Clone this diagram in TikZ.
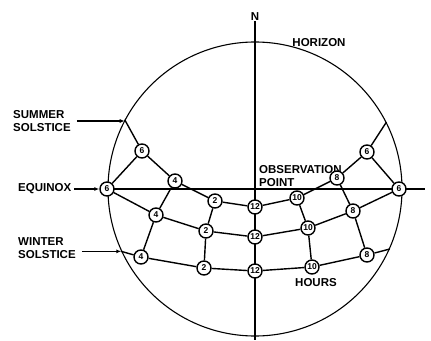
\documentclass[tikz,border=0pt]{standalone}
\usepackage{fontspec}
\setmainfont{Liberation Sans}
\usepackage{tikz}
\usetikzlibrary{arrows.meta, positioning, backgrounds}

\begin{document}
\begin{tikzpicture}[
    x=1pt, y=-1pt,
    hour/.style={
        circle,
        draw=black,
        line width=1.4pt,
        fill=white,
        inner sep=0pt,
        minimum size=14pt,
        font=\fontsize{8.5}{9}\selectfont\bfseries
    },
    lbl/.style={
        align=left,
        inner sep=0pt,
        font=\fontsize{11.5}{13.5}\selectfont\bfseries
    },
    track/.style={line width=1.4pt},
    axis/.style={line width=1.7pt},
    arrow/.style={-{Latex[length=5pt,width=4pt]}, line width=1.1pt}
]
\useasboundingbox (0,0) rectangle (431,340);

\node[circle, draw=black, line width=1.1pt, minimum size=294pt, inner sep=0pt] (horizon) at (255,189) {};

% labels
\node[lbl] (north) at (255,17) {N};
\node[lbl] (horlbl) at (319,43) {HORIZON};
\node[lbl, anchor=west] (summer) at (13,121) {SUMMER\\SOLSTICE};
\node[lbl, anchor=west] (equinox) at (18,189) {EQUINOX};
\node[lbl, anchor=west] (winter) at (18,248) {WINTER\\SOLSTICE};
\node[lbl, anchor=south west] (obs) at (259,187) {OBSERVATION\\POINT};
\node[lbl] (hours) at (316,283) {HOURS};

% summer solstice
\node[hour] (s6l) at (142,151) {6};
\node[hour] (s4) at (175,181) {4};
\node[hour] (s2) at (215,201) {2};
\node[hour] (s12) at (255,207) {12};
\node[hour] (s10) at (297,198) {10};
\node[hour] (s8) at (337,178) {8};
\node[hour] (s6r) at (367,152) {6};

% equinox
\node[hour] (e6l) at (107,189) {6};
\node[hour] (e4) at (156,215) {4};
\node[hour] (e2) at (206,231) {2};
\node[hour] (e12) at (255,237) {12};
\node[hour] (e10) at (308,228) {10};
\node[hour] (e8) at (353,211) {8};
\node[hour] (e6r) at (399,189) {6};

% winter solstice
\node[hour] (w4) at (141,257) {4};
\node[hour] (w2) at (204,268) {2};
\node[hour] (w12) at (255,271) {12};
\node[hour] (w10) at (312,267) {10};
\node[hour] (w8) at (367,255) {8};

\coordinate (sstart) at (horizon.152);
\coordinate (send) at (horizon.27);
\coordinate (wstart) at (horizon.205);
\coordinate (wend) at (horizon.336);
\coordinate (south) at (255,340);
\coordinate (east) at (425,189);

\begin{scope}[on background layer]
\draw[axis] (north.south) -- (south);
\draw[axis] (e6l.center) -- (east);
\end{scope}

% day paths
\draw[track] (sstart) -- (s6l) -- (s4) -- (s2) -- (s12) -- (s10) -- (s8) -- (s6r) -- (send);
\draw[track] (e6l) -- (e4) -- (e2) -- (e12) -- (e10) -- (e8) -- (e6r);
\draw[track] (wstart) -- (w4) -- (w2) -- (w12) -- (w10) -- (w8) -- (wend);

% hour lines
\draw[track] (s6l) -- (e6l);
\draw[track] (s4) -- (e4) -- (w4);
\draw[track] (s2) -- (e2) -- (w2);
\draw[track] (s10) -- (e10) -- (w10);
\draw[track] (s8) -- (e8) -- (w8);
\draw[track] (s6r) -- (e6r);

% pointers
\draw[arrow] ([xshift=6pt]summer.east) -- (summer.east -| sstart);
\draw[arrow] ([xshift=3pt]equinox.east) -- (e6l);
\draw[arrow] ([xshift=6pt]winter.east |- wstart) -- (wstart);

\end{tikzpicture}
\end{document}
